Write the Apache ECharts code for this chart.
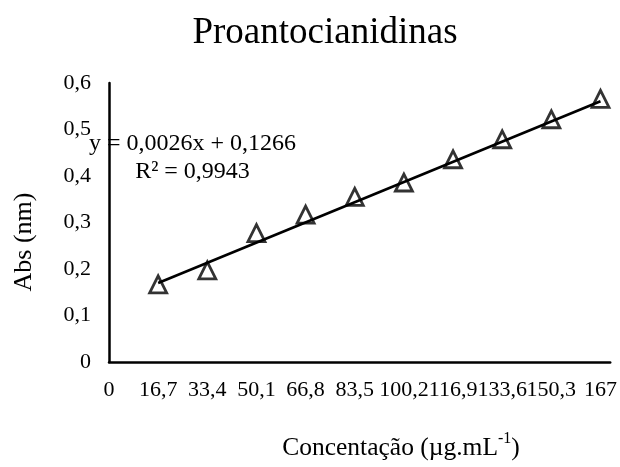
<!DOCTYPE html>
<html>
<head>
<meta charset="utf-8">
<script src="https://cdn.jsdelivr.net/npm/echarts@6/dist/echarts.min.js"></script>
<style>html,body{margin:0;padding:0;background:#fff;}#c{width:620px;height:467px;}</style>
</head>
<body>
<div id="c"></div>
<script>
const concentrations = [16.7, 33.4, 50.1, 66.8, 83.5, 100.2, 116.9, 133.6, 150.3, 167];
const absorbances = [0.167, 0.197, 0.277, 0.317, 0.355, 0.386, 0.436, 0.479, 0.522, 0.566];
const trendCoef = [0.0026, 0.1266]; // slope, intercept
const titleText = 'Proantocianidinas';
const yTitle = 'Abs (nm)';
const equationLines = ['y = 0,0026x + 0,1266', 'R² = 0,9943'];

const FONT = 'Liberation Serif';
const fmt = v => String(Math.round(v * 10) / 10).replace('.', ',');

const points = concentrations.map((x, i) => [x, absorbances[i]]);
const xMin = Math.min(...concentrations), xMax = Math.max(...concentrations);
const trend = [xMin, xMax].map(x => [x, trendCoef[0] * x + trendCoef[1]]);

const chart = echarts.init(document.getElementById('c'), null, {renderer: 'canvas'});
chart.setOption({
  backgroundColor: '#fff',
  animation: false,
  grid: {left: 109, right: 3, top: 83, bottom: 105},
  xAxis: {
    type: 'value', min: 0, max: 170.3, interval: 16.7,
    axisLine: {lineStyle: {color: '#000', width: 2.5}},
    axisTick: {show: false},
    splitLine: {show: false},
    axisLabel: {showMaxLabel: false, formatter: fmt, color: '#000', fontFamily: FONT, fontSize: 22, margin: 17}
  },
  yAxis: {
    type: 'value', min: 0, max: 0.6, interval: 0.1,
    axisLine: {show: true, lineStyle: {color: '#000', width: 2.5}},
    axisTick: {show: false},
    splitLine: {show: false},
    axisLabel: {formatter: fmt, color: '#000', fontFamily: FONT, fontSize: 22, margin: 18, padding: [4, 0, 0, 0]}
  },
  series: [
    {
      type: 'scatter', data: points, symbol: 'triangle', symbolSize: [17, 17],
      itemStyle: {color: 'none', borderColor: '#000', borderWidth: 2.8}, z: 3
    },
    {
      type: 'line', data: trend, symbol: 'none',
      lineStyle: {color: '#000', width: 2.6}, z: 4
    }
  ],
  graphic: [
    {type: 'text', x: 325, y: 33, style: {text: titleText, font: '37px "Liberation Serif"', fill: '#000', textAlign: 'center', textVerticalAlign: 'middle'}},
    {type: 'text', x: 192.5, y: 144, style: {text: equationLines[0], font: '24px "Liberation Serif"', fill: '#000', textAlign: 'center', textVerticalAlign: 'middle'}},
    {type: 'text', x: 192.5, y: 172, style: {text: equationLines[1], font: '24px "Liberation Serif"', fill: '#000', textAlign: 'center', textVerticalAlign: 'middle'}},
    {type: 'text', x: 24, y: 242, rotation: Math.PI / 2, style: {text: yTitle, font: '26px "Liberation Serif"', fill: '#000', textAlign: 'center', textVerticalAlign: 'middle'}},
    {type: 'text', x: 401, y: 446, style: {
      text: '{a|Concentação (µg.mL}{s|-1}{a|)}',
      textAlign: 'center', textVerticalAlign: 'middle',
      rich: {
        a: {fontFamily: FONT, fontSize: 25.5, color: '#000', lineHeight: 30, verticalAlign: 'bottom'},
        s: {fontFamily: FONT, fontSize: 16, color: '#000', lineHeight: 30, verticalAlign: 'top'}
      }
    }}
  ]
});
</script>
</body>
</html>
